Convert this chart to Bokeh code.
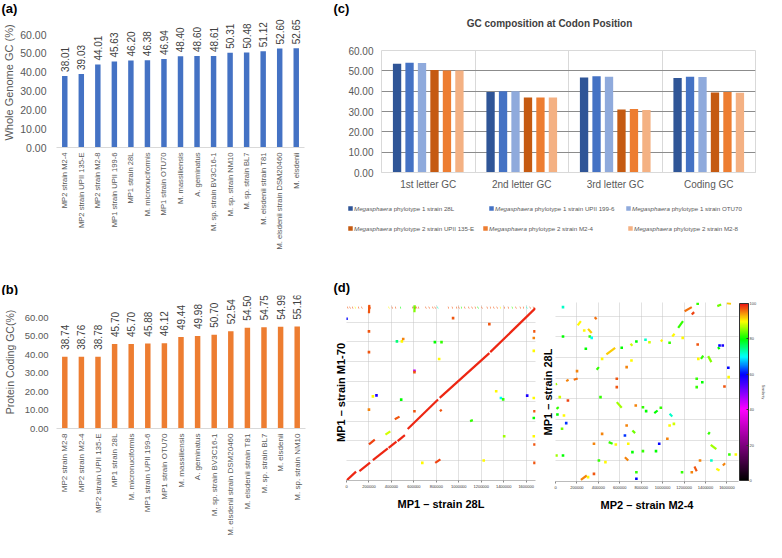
import numpy as np
from math import pi
from bokeh.plotting import figure
from bokeh.models import (ColumnDataSource, LabelSet, FixedTicker, NumeralTickFormatter,
                          LinearColorMapper, ColorBar, Range1d, FactorRange, Title)
from bokeh.layouts import row, column
from bokeh.transform import transform, dodge
from bokeh.core.properties import value
from bokeh.embed import file_html
from bokeh.resources import INLINE

FONT = "Liberation Sans"

# ---------------- data (a) ----------------
a_labels = ["MP2 strain M2-4", "MP2 strain UPII 135-E", "MP2 strain M2-8", "MP1 strain UPII 199-6",
            "MP1 strain 28L", "M. micronuciformis", "MP1 strain OTU70", "M. massiliensis",
            "A. geminatus", "M. sp. strain BV3C16-1", "M. sp. strain NM10", "M. sp. strain BL7",
            "M. elsdenii strain T81", "M. elsdenii strain DSM20460", "M. elsdenii"]
a_values = [38.01, 39.03, 44.01, 45.63, 46.20, 46.38, 46.94, 48.40, 48.60, 48.61, 50.31, 50.48,
            51.12, 52.60, 52.65]
# ---------------- data (b) ----------------
b_labels = ["MP2 strain M2-8", "MP2 strain M2-4", "MP2 strain UPII 135-E", "MP1 strain 28L",
            "M. micronuciformis", "MP1 strain UPII 199-6", "MP1 strain OTU70", "M. massiliensis",
            "A. geminatus", "M. sp. strain BV3C16-1", "M. elsdenii strain DSM20460",
            "M. elsdenii strain T81", "M. sp. strain BL7", "M. elsdenii", "M. sp. strain NM10"]
b_values = [38.74, 38.76, 38.78, 45.70, 45.70, 45.88, 46.12, 49.44, 49.98, 50.70, 52.54, 54.50,
            54.75, 54.99, 55.16]
y_ticks = [0, 10, 20, 30, 40, 50, 60]

# ---------------- data (c) ----------------
codon_pos = ["1st letter GC", "2nd letter GC", "3rd letter GC", "Coding GC"]
mp1_28L = [53.5, 39.6, 46.7, 46.5]
mp1_199_6 = [54.0, 40.0, 47.3, 47.1]
mp1_OTU70 = [53.8, 40.0, 47.1, 47.0]
mp2_135E = [50.4, 36.9, 31.0, 39.3]
mp2_M2_4 = [50.2, 36.9, 31.2, 39.6]
mp2_M2_8 = [50.2, 36.9, 30.7, 39.2]
series_names = ["phylotype 1 strain 28L", "phylotype 1 strain UPII 199-6", "phylotype 1 strain OTU70",
                "phylotype 2 strain UPII 135-E", "phylotype 2 strain M2-4", "phylotype 2 strain M2-8"]
series_colors = ["#2F5597", "#4472C4", "#8FAADC", "#C55A11", "#ED7D31", "#F4B183"]

# ---------------- data (d) : dot plots, coordinates in kb ----------------
dl_x0 = [0, 115, 235, 375, 455, 545, 830, 1280, 200, 790, 430, 832, 347, 1100, 200, 605]
dl_y0 = [0, 95, 205, 330, 398, 520, 835, 1297, 365, 178, 618, 700, 464, 600, 1690, 1700]
dl_x1 = [85, 210, 368, 445, 520, 815, 1272, 1683, 252, 836, 472, 848, 390, 1125, 203, 608]
dl_y1 = [90, 180, 325, 392, 458, 818, 1287, 1741, 412, 214, 645, 716, 497, 610, 1775, 1770]
dl_sim = [99, 99, 99, 99, 99, 99, 99, 99, 98, 98, 97, 97, 88, 82, 97, 85]
top_x = [9, 29, 53, 76, 106, 135, 194, 200, 206, 211, 376, 405, 435, 479, 587, 599, 611, 623, 640,
         705, 734, 767, 787, 811, 905, 940, 978, 999, 1022, 1051, 1087, 1116, 1145, 1169, 1204,
         1251, 1280, 1310, 1339, 1368, 1404, 1439, 1474, 1507, 1545, 1574, 1604, 1633, 1662]
top_sim = [97, 97, 97, 90, 97, 97, 97, 97, 97, 97, 90, 97, 97, 80, 97, 80, 97, 97, 97,
           97, 97, 97, 97, 72, 97, 97, 97, 97, 82, 97, 97, 97, 97, 80, 97,
           97, 97, 97, 97, 90, 97, 97, 82, 97, 97, 97, 72, 97, 97]
dl_dot_x = [0, 200, 200, 449, 493, 505, 787, 846, 825, 605, 605, 235, 267, 487, 200, 605, 949, 1272,
            1333, 1375, 1395, 1609, 1668, 1674, 1668, 1404, 1668, 1674, 675, 1222, 1674, 1674, 1668, 1668]
dl_dot_y = [1634, 1506, 1297, 1405, 1405, 1430, 1398, 1398, 1227, 1109, 1095, 850, 860, 817, 716, 699,
            1640, 1580, 901, 834, 820, 857, 834, 699, 632, 447, 447, 363, 178, 202, 178, 1506, 1440, 1310]
dl_dot_sim = [60, 97, 97, 75, 90, 95, 80, 82, 90, 45, 97, 90, 58, 80, 95, 97, 97, 97,
              90, 70, 82, 58, 90, 97, 80, 86, 90, 97, 90, 90, 97, 97, 95, 90]

dr_x0 = [207, 304, 365, 475, 384, 700, 983, 1090, 1145, 1205, 1272, 1358, 1425, 1516, 1510, 1601,
         0, 100, 170, 9, 572, 922, 718, 496, 1065, 1425, 1449, 237, 648, 1297, 1562, 1501]
dr_y0 = [1510, 1477, 1590, 1229, 1081, 1332, 1355, 1403, 1487, 1648, 1616, 1187, 1213, 1300, 1697, 1726,
         939, 971, 984, 703, 768, 661, 494, 381, 655, 455, 355, 16, 235, 145, 155, 123]
dr_x1 = [237, 338, 384, 557, 405, 718, 998, 1111, 1190, 1272, 1294, 1379, 1455, 1531, 1546, 1638,
         15, 122, 207, 30, 618, 953, 743, 533, 1090, 1440, 1501, 292, 679, 1318, 1583, 1531]
dr_y1 = [1552, 1436, 1571, 1294, 1107, 1313, 1371, 1429, 1552, 1687, 1639, 1219, 1155, 1281, 1713, 1720,
         945, 984, 997, 719, 713, 687, 468, 365, 629, 477, 313, 58, 203, 100, 177, 106]
dr_sim = [90, 92, 96, 92, 82, 88, 90, 90, 82, 96, 98, 82, 85, 80, 84, 92,
          86, 95, 96, 82, 86, 80, 84, 82, 72, 82, 86, 95, 95, 97, 95, 90]
dr_dot_x = [70, 268, 320, 338, 283, 70, 435, 618, 755, 840, 877, 664, 709, 1065, 1187, 1327, 1327,
            1531, 1561, 1613, 1616, 201, 40, 116, 79, 100, 61, 18, 420, 749, 816, 846, 983, 664, 679,
            648, 563, 1065, 1105, 1318, 1370, 1577, 1623, 1683, 9, 70, 304, 359, 405, 466, 718, 816,
            938, 755, 755, 1181, 1272, 1349, 1455, 968, 1044, 572, 572, 435, 359, 1333, 1318]
dr_dot_y = [1687, 1461, 1403, 1390, 1284, 1403, 1187, 1294, 1355, 1371, 1348, 1107, 1171, 1342, 1390,
            1720, 1326, 1316, 1316, 1100, 1010, 1068, 816, 784, 639, 565, 510, 648, 816, 735, 719, 681,
            713, 542, 365, 445, 358, 542, 558, 913, 961, 919, 261, 261, 252, 252, 42, 74, 203, 187,
            284, 294, 294, 90, 26, 90, 90, 203, 203, 365, 413, 913, 994, 461, 365, 1187, 994]
dr_dot_sim = [72, 90, 82, 70, 80, 80, 90, 80, 80, 72, 88, 95, 90, 82, 90, 82, 97, 60, 58, 60, 90,
              95, 88, 98, 90, 62, 84, 80, 82, 95, 82, 80, 82, 95, 90, 62, 90, 90, 88, 82, 80, 97,
              82, 90, 86, 80, 90, 97, 82, 90, 80, 82, 80, 82, 60, 82, 95, 95, 72, 60, 95, 97, 97,
              95, 95, 90, 82]
bp_ticks = [0, 200000, 400000, 600000, 800000, 1000000, 1200000, 1400000, 1600000]
cb_ticks = [0, 20, 40, 60, 80, 100]

# similarity palette (black - magenta - blue - cyan - green - yellow - red)
anchor_v = [0, 40, 60, 70, 80, 90, 100]
anchor_c = [(0, 0, 0), (255, 0, 255), (0, 0, 255), (0, 255, 255), (0, 255, 0), (255, 255, 0), (235, 20, 20)]
grid_v = np.linspace(0, 100, 256)
palette = []
for v in grid_v:
    rgb = [int(round(np.interp(v, anchor_v, [c[k] for c in anchor_c]))) for k in range(3)]
    palette.append("#%02x%02x%02x" % tuple(rgb))
mapper = LinearColorMapper(palette=palette, low=0, high=100)

COMMON = dict(output_backend="svg", toolbar_location=None, frame_align=False)


def strip(W, H):
    """A text strip whose frame is the whole figure; data units are pixels (y downwards)."""
    s = figure(width=W, height=H, x_range=Range1d(0, W), y_range=Range1d(H, 0),
               min_border=0, min_border_left=0, min_border_right=0, min_border_top=0,
               min_border_bottom=0, x_axis_type=None, y_axis_type=None, **COMMON)
    s.outline_line_color = None
    return s


def strip_text(s, x, y, text, size, style="normal", color="black", align="left",
               baseline="top"):
    s.text(x=[x], y=[y], text=[text], text_font=value(FONT), text_font_size=value(f"{size}px"),
           text_font_style=style, text_color=color, text_align=align, text_baseline=baseline)


def bar_panel(labels, values, color, W, H, bl, br, bb, y60, ylabel, tick_fs, tick_so,
              ylab_fs, ylab_so, val_off, cat_fs):
    # frame starts at the top of the figure so that the value labels stay inside it
    fb = H - bb
    ytop = 60.0 * fb / (fb - y60)
    p = figure(width=W, height=H, x_range=FactorRange(*labels), y_range=Range1d(0, ytop),
               min_border_left=bl, min_border_right=br, min_border_top=0,
               min_border_bottom=bb, **COMMON)
    src = ColumnDataSource(dict(cat=labels, val=values, vtxt=[f"{v:.2f}" for v in values]))
    p.vbar(x="cat", top="val", width=0.33, source=src, fill_color=color, line_color=None)
    p.outline_line_color = None
    p.grid.visible = False
    ya = p.yaxis[0]
    ya.ticker = FixedTicker(ticks=y_ticks)
    ya.formatter = NumeralTickFormatter(format="0.00")
    ya.axis_line_color = None
    ya.major_tick_line_color = None
    ya.minor_tick_line_color = None
    ya.major_tick_out = 0
    ya.major_tick_in = 0
    ya.major_label_text_font = FONT
    ya.major_label_text_font_size = f"{tick_fs}px"
    ya.major_label_text_color = "#595959"
    ya.major_label_standoff = tick_so
    ya.axis_label = ylabel
    ya.axis_label_text_font = FONT
    ya.axis_label_text_font_size = f"{ylab_fs}px"
    ya.axis_label_text_font_style = "normal"
    ya.axis_label_text_color = "#595959"
    ya.axis_label_standoff = ylab_so
    xa = p.xaxis[0]
    xa.axis_line_color = "#d9d9d9"
    xa.major_tick_line_color = None
    xa.major_tick_out = 0
    xa.major_tick_in = 0
    xa.major_label_orientation = pi / 2
    xa.major_label_text_font = FONT
    xa.major_label_text_font_size = f"{cat_fs}px"
    xa.major_label_text_color = "#595959"
    xa.major_label_standoff = 5
    p.add_layout(LabelSet(x="cat", y="val", text="vtxt", source=src, angle=pi / 2,
                          text_align="left", text_baseline="middle", y_offset=val_off,
                          text_font=value(FONT), text_font_size=value("10px"),
                          text_color="#404040"))
    return p


LEFT_W, RIGHT_W = 332, 434

sa = strip(LEFT_W, 17)
strip_text(sa, 1, 0.5, "(a)", 13, style="bold")
pa = bar_panel(a_labels, a_values, "#4472C4", LEFT_W, 245, 52, 28, 115, 17,
               "Whole Genome GC (%)", 10.5, 10, 11, 2, 4, 7.6)
sb = strip(LEFT_W, 33)
strip_text(sb, 1, 19, "(b)", 13, style="bold")
pb = bar_panel(b_labels, b_values, "#ED7D31", LEFT_W, 247, 52, 27, 114, 22,
               "Protein Coding GC(%)", 9.5, 8, 10.5, 6, 7, 8)

# ---------------- panel (c) ----------------
sc = strip(RIGHT_W, 44)
strip_text(sc, 1, 0.5, "(c)", 13, style="bold")
strip_text(sc, 217, 23, "GC composition at Codon Position", 10, style="bold", color="#404040",
           align="center", baseline="middle")

pc = figure(width=RIGHT_W, height=148, x_range=Range1d(0, 4), y_range=Range1d(0, 60),
            min_border_left=49, min_border_right=11, min_border_top=6, min_border_bottom=19,
            **COMMON)
csrc = ColumnDataSource(dict(xc=[0.5, 1.5, 2.5, 3.5], s0=mp1_28L, s1=mp1_199_6, s2=mp1_OTU70,
                             s3=mp2_135E, s4=mp2_M2_4, s5=mp2_M2_8))
for j in range(6):
    pc.vbar(x=dodge("xc", (j - 2.5) * 0.1334), top=f"s{j}", width=0.089, source=csrc,
            fill_color=series_colors[j], line_color=None)
pc.outline_line_color = "#d9d9d9"
pc.xgrid.ticker = FixedTicker(ticks=[1, 2, 3])
pc.xgrid.grid_line_color = "#d9d9d9"
pc.ygrid.ticker = FixedTicker(ticks=y_ticks)
pc.ygrid.grid_line_color = "#8c8c8c"
ya = pc.yaxis[0]
ya.ticker = FixedTicker(ticks=y_ticks)
ya.formatter = NumeralTickFormatter(format="0.00")
ya.axis_line_color = None
ya.major_tick_line_color = None
ya.minor_tick_line_color = None
ya.major_tick_out = 0
ya.major_tick_in = 0
ya.major_label_text_font = FONT
ya.major_label_text_font_size = "10px"
ya.major_label_text_color = "#595959"
ya.major_label_standoff = 8
xa = pc.xaxis[0]
xa.ticker = FixedTicker(ticks=[0.5, 1.5, 2.5, 3.5])
xa.major_label_overrides = {0.5: codon_pos[0], 1.5: codon_pos[1], 2.5: codon_pos[2], 3.5: codon_pos[3]}
xa.axis_line_color = "#d9d9d9"
xa.major_tick_line_color = None
xa.minor_tick_line_color = None
xa.major_tick_out = 0
xa.major_tick_in = 0
xa.major_label_text_font = FONT
xa.major_label_text_font_size = "10px"
xa.major_label_text_color = "#595959"
xa.major_label_standoff = 6

# legend of (c): a strip below the chart
LH = 70
leg_mx = [18.0, 159.0, 296.0, 18.0, 153.0, 298.0]
leg_my = [16.0, 16.0, 16.0, 36.0, 36.0, 36.0]
leg_fs = 6.2
pl = strip(RIGHT_W, LH)
lsrc = ColumnDataSource(dict(mx=leg_mx, my=leg_my, color=series_colors,
                             tx=[m + 3.5 for m in leg_mx],
                             tx2=[m + 3.5 + 6.4 * leg_fs for m in leg_mx],
                             genus=["Megasphaera"] * 6, rest=series_names))
pl.scatter(x="mx", y="my", source=lsrc, marker="square", size=4.5, fill_color="color",
           line_color=None)
pl.text(x="tx", y="my", text="genus", source=lsrc, text_font=value(FONT),
        text_font_size=value(f"{leg_fs}px"), text_font_style="italic", text_color="#595959",
        text_baseline="middle", text_align="left")
pl.text(x="tx2", y="my", text="rest", source=lsrc, text_font=value(FONT),
        text_font_size=value(f"{leg_fs}px"), text_color="#595959",
        text_baseline="middle", text_align="left")

# ---------------- panel (d) ----------------
sd = strip(RIGHT_W, 36)
strip_text(sd, 1, 17.5, "(d)", 13, style="bold")
HD = 244


def dot_panel(W, bl, br, bt, bb, xmax, ymax, segs, dots, xlabel, ylabel, ylab_off, ylab_so):
    p = figure(width=W, height=HD, x_range=Range1d(0, xmax), y_range=Range1d(0, ymax),
               min_border_left=bl, min_border_right=br, min_border_top=bt,
               min_border_bottom=bb, **COMMON)
    p.outline_line_color = None
    for g in (p.xgrid, p.ygrid):
        g.ticker = FixedTicker(ticks=bp_ticks)
        g.grid_line_color = "#c4c4c4"
        g.grid_line_dash = "1 1"
    x0, y0, x1, y1, s = segs
    ssrc = ColumnDataSource(dict(x0=np.array(x0) * 1000.0, y0=np.array(y0) * 1000.0,
                                 x1=np.array(x1) * 1000.0, y1=np.array(y1) * 1000.0, sim=s))
    p.segment(x0="x0", y0="y0", x1="x1", y1="y1", source=ssrc, line_width=2.2,
              line_color=transform("sim", mapper))
    dx, dy, ds = dots
    dsrc = ColumnDataSource(dict(x=np.array(dx) * 1000.0, y=np.array(dy) * 1000.0, sim=ds))
    p.scatter(x="x", y="y", source=dsrc, marker="square", size=2.6,
              fill_color=transform("sim", mapper), line_color=None)
    xa = p.xaxis[0]
    xa.ticker = FixedTicker(ticks=bp_ticks)
    xa.formatter = NumeralTickFormatter(format="0")
    xa.axis_line_color = "#bbbbbb"
    xa.major_tick_line_color = "#888888"
    xa.minor_tick_line_color = None
    xa.major_tick_out = 2
    xa.major_tick_in = 0
    xa.major_label_text_font = FONT
    xa.major_label_text_font_size = "4px"
    xa.major_label_text_color = "#333333"
    xa.major_label_standoff = 2
    xa.axis_label = xlabel
    xa.axis_label_text_font = FONT
    xa.axis_label_text_font_size = "11px"
    xa.axis_label_text_font_style = "bold"
    xa.axis_label_text_color = "black"
    xa.axis_label_standoff = 7
    p.yaxis.visible = False
    p.add_layout(Title(text=ylabel, align="center", offset=ylab_off, standoff=ylab_so,
                       text_font=FONT, text_font_size="11px", text_font_style="bold",
                       text_color="black"), "left")
    return p


pd1 = dot_panel(205, 13, 2, 6, 62, 1.683e6, 1.778e6,
                (dl_x0 + top_x, dl_y0 + [1745] * len(top_x), dl_x1 + [x + 4 for x in top_x],
                 dl_y1 + [1747] * len(top_x), dl_sim + top_sim),
                (dl_dot_x, dl_dot_y, dl_dot_sim), "MP1 \u2013 strain 28L", "MP1 \u2013 strain M1-70",
                8, 0)
pd2 = dot_panel(229, 17, 25, 4, 61, 1.708e6, 1.732e6,
                (dr_x0, dr_y0, dr_x1, dr_y1, dr_sim), (dr_dot_x, dr_dot_y, dr_dot_sim),
                "MP2 \u2013 strain M2-4", "MP1 \u2013 strain 28L", 14, 4)
cb = ColorBar(color_mapper=mapper, ticker=FixedTicker(ticks=cb_ticks), width=9, margin=2,
              padding=1, label_standoff=1, major_label_text_font_size="4px",
              major_label_text_font=FONT, major_tick_line_color="#333333", major_tick_in=2,
              major_tick_out=0, bar_line_color="#333333", background_fill_color=None)
pd2.add_layout(cb, "right")
pd2.add_layout(Title(text="Similarity", align="center", standoff=0, text_font=FONT,
                     text_font_size="3.6px", text_font_style="normal", text_color="#333333"),
               "right")

layout = row(column(sa, pa, sb, pb), column(sc, pc, pl, sd, row(pd1, pd2)))
open("out.html", "w").write(file_html(layout, INLINE))
